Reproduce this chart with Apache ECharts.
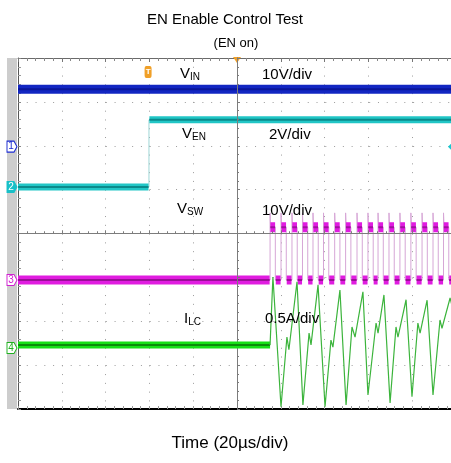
<!DOCTYPE html>
<html><head><meta charset="utf-8">
<script src="https://cdn.jsdelivr.net/npm/echarts@6/dist/echarts.min.js"></script>
<style>html,body{margin:0;padding:0;background:#fff}#c{width:451px;height:463px}</style>
</head><body><div id="c"></div>
<script>
// Time in µs relative to the trigger (20 µs/div); vertical values in screen divisions (8 div).
const timeTicks = [-100, -80, -60, -40, -20, 0, 20, 40, 60, 80, 100];
const divTicks = [-4, -3, -2, -1, 0, 1, 2, 3, 4];

// VIN (ch1, 10V/div)
const vinTime = [-100, 100];
const vinDiv = [3.29, 3.29];
// VEN (ch2, 2V/div)
const enTime = [-100, -40.2, -40.2, 100];
const enDiv = [1.06, 1.06, 2.59, 2.59];
// VSW (ch3, 10V/div) switching edges
const swRise = [15.1, 20.1, 25.1, 29.9, 34.7, 39.5, 44.6, 49.6, 54.8, 59.8, 64.4, 69.4, 74.4, 79.4, 84.5, 89.5, 94.3, 99.2];
const swFall = [17.5, 22.5, 27.5, 32.3, 37.1, 41.9, 47.0, 52.0, 57.2, 62.2, 66.8, 71.8, 76.8, 81.8, 86.9, 91.9, 96.7, 101.6];
const swLevels = [-1.06, 0.14, 0.47]; // low, high, spike
// ILC (ch4, 0.5A/div)
const ilcTime = [-100, 15.1, 16.4, 20.1, 22.8, 23.7, 27.4, 30.1, 32.9, 33.8, 37.0, 40.2, 42.9, 43.8, 47.0, 49.8, 52.5, 53.9, 57.5, 59.8, 63.5, 64.4, 67.1, 69.9, 72.6, 73.5, 77.2, 79.9, 82.6, 83.6, 86.8, 89.5, 92.7, 93.6, 97.3, 100];
const ilcDiv = [-2.54, -2.54, -0.99, -3.95, -2.36, -2.65, -1.10, -3.91, -2.27, -2.54, -1.17, -3.95, -2.43, -2.59, -1.29, -3.91, -2.13, -2.36, -1.33, -3.68, -2.04, -2.27, -1.40, -3.86, -2.13, -2.36, -1.51, -3.72, -2.04, -2.27, -1.52, -3.68, -1.97, -2.16, -1.47, -2.0];
// channel ground markers
const chNames = ['1', '2', '3', '4'];
const chLevels = [1.98, 1.06, -1.06, -2.61];
const chColors = ['#1a2ad0', '#18c0c8', '#d020d0', '#20b020'];
const trigTime = -40.6;

const chart = echarts.init(document.getElementById('c'), null, {renderer: 'canvas'});
const pairs = (ts, vs) => ts.map((t, i) => [t, vs[i]]);
const GAP = ['-', '-'];

// VSW thin outline and thick level segments
const swThin = [[-100, swLevels[0]]];
const swHighSeg = [], swLowSeg = [[-100, swLevels[0]], [swRise[0] - 0.2, swLevels[0]], GAP];
swRise.forEach((r, i) => {
  const f = swFall[i];
  swThin.push([r, swLevels[0]], [r, swLevels[2]], [r + 0.25, swLevels[1]], [f, swLevels[1]], [f, swLevels[0]]);
  swHighSeg.push([r + 0.15, swLevels[1]], [f - 0.1, swLevels[1]], GAP);
  const nxt = i + 1 < swRise.length ? swRise[i + 1] : 100;
  swLowSeg.push([f + 0.2, swLevels[0]], [nxt - 0.2, swLevels[0]], GAP);
});

const ilcFlatEnd = 1;
const ilcFlat = pairs(ilcTime.slice(0, ilcFlatEnd + 1), ilcDiv.slice(0, ilcFlatEnd + 1));
const ilcWave = pairs(ilcTime.slice(ilcFlatEnd), ilcDiv.slice(ilcFlatEnd));

const baseX = {type: 'value', min: timeTicks[0], max: timeTicks[timeTicks.length - 1], interval: 20, axisLabel: {show: false}};
const baseY = {type: 'value', min: divTicks[0], max: divTicks[divTicks.length - 1], interval: 1, axisLabel: {show: false}};
const dots = {show: true, lineStyle: {color: '#9c9c9c', width: 1, type: [1, 7.78]}};

const line = (data, color, width, z, extra) => Object.assign({
  type: 'line', data, symbol: 'none', silent: true, animation: false, z,
  lineStyle: {color, width, cap: 'butt'}, connectNulls: false, xAxisIndex: 0, yAxisIndex: 0
}, extra || {});

const chMarks = chNames.map((n, i) => ({
  coord: [timeTicks[0], chLevels[i]], symbol: 'path://M0,0 L7,0 L10,5 L7,10 L0,10 Z', symbolSize: [10, 11],
  symbolOffset: [-6, 0],
  itemStyle: {color: i === 1 ? chColors[1] : '#fff', borderColor: chColors[i], borderWidth: 1},
  label: {show: true, formatter: n, color: i === 1 ? '#fff' : chColors[i], fontSize: 10, fontFamily: 'Liberation Sans', offset: [-1, 0]}
}));

const option = {
  backgroundColor: '#fff',
  animation: false,
  grid: {left: 18, top: 58, width: 438, height: 351, outerBoundsMode: 'none', containLabel: false},
  xAxis: [
    Object.assign({}, baseX, {position: 'bottom', axisLine: {onZero: false, lineStyle: {color: '#000', width: 2}},
      axisTick: {show: true, inside: true, length: 3, lineStyle: {color: '#999'}},
      minorTick: {show: true, splitNumber: 5, length: 3, lineStyle: {color: '#999'}}, splitLine: dots}),
    Object.assign({}, baseX, {position: 'top', axisLine: {onZero: false, lineStyle: {color: '#6a6a6a', width: 1}},
      axisTick: {show: true, inside: true, length: 4, lineStyle: {color: '#777'}},
      minorTick: {show: true, splitNumber: 5, length: 3, lineStyle: {color: '#888'}}, splitLine: {show: false}}),
    Object.assign({}, baseX, {position: 'bottom', axisLine: {onZero: true, onZeroAxisIndex: 0, lineStyle: {color: '#7c7c7c', width: 1}},
      axisTick: {show: true, inside: true, length: 3, lineStyle: {color: '#7c7c7c'}},
      minorTick: {show: true, splitNumber: 5, length: 2, lineStyle: {color: '#7c7c7c'}}, splitLine: {show: false}, z: 5}),
    Object.assign({}, baseX, {position: 'top', axisLine: {onZero: true, onZeroAxisIndex: 0, lineStyle: {color: '#7c7c7c', width: 1}},
      axisTick: {show: true, inside: false, length: 3, lineStyle: {color: '#7c7c7c'}},
      minorTick: {show: true, splitNumber: 5, length: 2, lineStyle: {color: '#7c7c7c'}}, splitLine: {show: false}, z: 5})
  ],
  yAxis: [
    Object.assign({}, baseY, {position: 'left', axisLine: {onZero: false, lineStyle: {color: '#555', width: 1}},
      axisTick: {show: true, inside: true, length: 3, lineStyle: {color: '#888'}},
      minorTick: {show: true, splitNumber: 5, length: 3, lineStyle: {color: '#999'}}, splitLine: dots}),
    Object.assign({}, baseY, {position: 'left', axisLine: {onZero: true, onZeroAxisIndex: 0, lineStyle: {color: '#7c7c7c', width: 1}},
      axisTick: {show: true, inside: true, length: 3, lineStyle: {color: '#7c7c7c'}},
      minorTick: {show: true, splitNumber: 5, length: 2, lineStyle: {color: '#7c7c7c'}}, splitLine: {show: false}, z: 5}),
    Object.assign({}, baseY, {position: 'right', axisLine: {onZero: true, onZeroAxisIndex: 0, lineStyle: {color: '#7c7c7c', width: 1}},
      axisTick: {show: true, inside: false, length: 3, lineStyle: {color: '#7c7c7c'}},
      minorTick: {show: true, splitNumber: 5, length: 2, lineStyle: {color: '#7c7c7c'}}, splitLine: {show: false}, z: 5})
  ],
  series: [
    line(pairs(vinTime, vinDiv), '#1226c2', 9, 3),
    line(pairs(vinTime, vinDiv), '#0a169a', 2, 4),
    line(pairs(enTime, enDiv), '#9fd6d6', 1, 3),
    line([[enTime[0], enDiv[0]], [enTime[1] - 0.2, enDiv[1]], GAP, [enTime[2] + 0.2, enDiv[2]], [enTime[3], enDiv[3]]], '#22c6c6', 7, 3, {
      markPoint: {silent: true, data: [
        {coord: [trigTime, 3.68], symbol: 'roundRect', symbolSize: [7, 12], itemStyle: {color: '#f0a028'},
          label: {show: true, formatter: 'T', color: '#fff', fontSize: 8, fontWeight: 'bold'}},
        {coord: [0, 4], symbol: 'triangle', symbolRotate: 180, symbolSize: [8, 6], symbolOffset: [0, 2], itemStyle: {color: '#f0a028'}, label: {show: false}},
        {coord: [100, chLevels[0]], symbol: 'diamond', symbolSize: [10, 10], symbolOffset: [-3, 0], itemStyle: {color: '#18c8d0'}, label: {show: false}}
      ]}
    }),
    line([[enTime[0], enDiv[0]], [enTime[1] - 0.2, enDiv[1]], GAP, [enTime[2] + 0.2, enDiv[2]], [enTime[3], enDiv[3]]], '#0b8a8c', 2, 4),
    line(swThin, '#d6a6d6', 1, 3),
    line(swLowSeg, '#e01ce0', 9, 3),
    line(swLowSeg, '#9a0e98', 2, 4),
    line(swHighSeg, '#e01ce0', 10, 3),
    line(swHighSeg, '#a010a0', 2, 4),
    line(ilcFlat, '#16e016', 7, 5),
    line(ilcFlat, '#0a8c0a', 2, 6),
    line(ilcWave, '#3cb43c', 1.2, 6),
    line([[timeTicks[0], chLevels[0]]], '#000', 0, 7, {markPoint: {silent: true, data: chMarks}})
  ],
  graphic: [
    {type: 'rect', left: 7, top: 58, shape: {width: 10, height: 351}, style: {fill: '#cdcdcd'}, z: -1, silent: true},
    {type: 'text', x: 225, y: 20, style: {text: 'EN Enable Control Test', font: '15px "Liberation Sans", Arial', fill: '#000', textAlign: 'center', textVerticalAlign: 'middle'}},
    {type: 'text', x: 236, y: 43, style: {text: '(EN on)', font: '13px "Liberation Sans", Arial', fill: '#000', textAlign: 'center', textVerticalAlign: 'middle'}},
    {type: 'text', x: 230, y: 443, style: {text: 'Time (20µs/div)', font: '17px "Liberation Sans", Arial', fill: '#000', textAlign: 'center', textVerticalAlign: 'middle'}}
  ]
};

const labels = [
  ['V', 'IN', 180, 74, '10V/div', 262, 75],
  ['V', 'EN', 182, 134, '2V/div', 269, 135],
  ['V', 'SW', 177, 209, '10V/div', 262, 211],
  ['I', 'LC', 184, 319, '0.5A/div', 265, 319]
];
labels.forEach(l => {
  option.graphic.push({type: 'text', x: l[2], y: l[3], z: 20, style: {
    text: '{m|' + l[0] + '}{s|' + l[1] + '}', textVerticalAlign: 'middle',
    rich: {m: {fontSize: 15, fontFamily: 'Liberation Sans', fill: '#000', lineHeight: 16, color: '#000'},
           s: {fontSize: 10, fontFamily: 'Liberation Sans', fill: '#000', color: '#000', lineHeight: 8, verticalAlign: 'bottom'}}
  }});
  option.graphic.push({type: 'text', x: l[5], y: l[6], z: 20, style: {text: l[4], font: '15px "Liberation Sans", Arial', fill: '#000', textVerticalAlign: 'middle'}});
});

chart.setOption(option);
</script></body></html>
